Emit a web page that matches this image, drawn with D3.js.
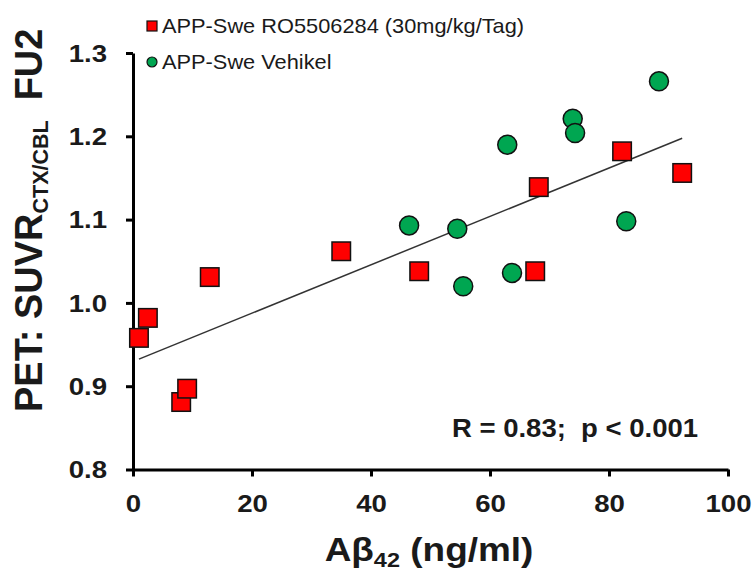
<!DOCTYPE html>
<html>
<head>
<meta charset="utf-8">
<script src="https://cdn.jsdelivr.net/npm/d3@7"></script>
<style>
  body { margin: 0; background: #fff; }
  svg { display: block; }
  text { font-family: Arial, "Liberation Sans", sans-serif; }
</style>
</head>
<body>
<div id="chart"></div>
<script>
// Treated group (red squares)
const treatedX = [1.0, 2.5, 8.1, 9.1, 12.9, 35.0, 48.1, 67.6, 68.2, 82.2, 92.3];
const treatedY = [0.958, 0.982, 0.881, 0.897, 1.031, 1.062, 1.038, 1.038, 1.139, 1.182, 1.156];
// Vehicle group (green circles)
const vehicleX = [46.4, 54.5, 55.5, 62.9, 63.7, 73.9, 74.3, 82.9, 88.4];
const vehicleY = [1.093, 1.089, 1.020, 1.190, 1.036, 1.221, 1.204, 1.098, 1.266];

const xTicks = [0, 20, 40, 60, 80, 100];
const yTicks = [0.8, 0.9, 1.0, 1.1, 1.2, 1.3];
const legendLabels = ["APP-Swe RO5506284 (30mg/kg/Tag)", "APP-Swe Vehikel"];
const statsLabel = "R = 0.83;  p < 0.001";

const width = 753, height = 572;
const svg = d3.select("#chart").append("svg")
    .attr("width", width)
    .attr("height", height);

const x = d3.scaleLinear().domain([0, 100]).range([133, 728]);
const y = d3.scaleLinear().domain([0.8, 1.3]).range([469.5, 53]);

const SX = 1.2; // text in the figure is horizontally stretched

// Regression line over all points
const allX = treatedX.concat(vehicleX);
const allY = treatedY.concat(vehicleY);
const mx = d3.mean(allX), my = d3.mean(allY);
const slope = d3.sum(allX, (v, i) => (v - mx) * (allY[i] - my)) / d3.sum(allX, v => (v - mx) * (v - mx));
const icept = my - slope * mx;
const xmin = d3.min(allX), xmax = d3.max(allX);

svg.append("line")
    .attr("x1", x(xmin)).attr("y1", y(icept + slope * xmin))
    .attr("x2", x(xmax)).attr("y2", y(icept + slope * xmax))
    .attr("stroke", "#333").attr("stroke-width", 1.5);

// Axes
const yAxis = svg.append("g")
    .attr("transform", `translate(${x(0)},0)`)
    .call(d3.axisLeft(y).tickValues(yTicks).tickSize(7).tickSizeOuter(0)
        .tickFormat(d3.format(".1f")));
const xAxis = svg.append("g")
    .attr("transform", `translate(0,${y(0.8)})`)
    .call(d3.axisBottom(x).tickValues(xTicks).tickSize(7).tickSizeOuter(0));

[yAxis, xAxis].forEach(function (ax) {
    ax.select(".domain").attr("stroke", "#000").attr("stroke-width", 3);
    ax.selectAll(".tick line").attr("stroke", "#000").attr("stroke-width", 3);
    ax.selectAll(".tick text")
        .attr("fill", "#1a1a1a")
        .style("font-size", "23px")
        .style("font-weight", "bold");
});
yAxis.selectAll(".tick text")
    .attr("x", -26 / SX)
    .attr("dy", "0.36em")
    .attr("transform", `scale(${SX},1)`);
xAxis.selectAll(".tick text")
    .attr("y", 42.5)
    .attr("dy", 0)
    .attr("transform", `scale(${SX},1)`);

// Points
const sq = 18.5;
svg.selectAll(".treated")
    .data(treatedX)
    .enter().append("rect")
    .attr("class", "treated")
    .attr("x", d => x(d) - sq / 2)
    .attr("y", (d, i) => y(treatedY[i]) - sq / 2)
    .attr("width", sq).attr("height", sq)
    .attr("fill", "#ff0000").attr("stroke", "#111").attr("stroke-width", 1.5);

svg.selectAll(".vehicle")
    .data(vehicleX)
    .enter().append("circle")
    .attr("class", "vehicle")
    .attr("cx", d => x(d))
    .attr("cy", (d, i) => y(vehicleY[i]))
    .attr("r", 9.5)
    .attr("fill", "#00a651").attr("stroke", "#111").attr("stroke-width", 1.5);

// Legend
const leg = svg.append("g");
leg.append("rect")
    .attr("x", 147).attr("y", 21).attr("width", 10).attr("height", 10)
    .attr("fill", "#ff0000").attr("stroke", "#111").attr("stroke-width", 1.2);
leg.append("circle")
    .attr("cx", 152).attr("cy", 62).attr("r", 5)
    .attr("fill", "#00a651").attr("stroke", "#111").attr("stroke-width", 1.2);
legendLabels.forEach(function (lab, i) {
    leg.append("g")
        .attr("transform", `translate(162,${[33, 69][i]})`)
        .append("text")
        .attr("transform", "scale(1.09,1)")
        .attr("fill", "#1a1a1a")
        .style("font-size", "20px")
        .text(lab);
});

// Stats annotation
svg.append("g")
    .attr("transform", "translate(452,437)")
    .append("text")
    .attr("transform", "scale(1.1,1)")
    .attr("fill", "#1a1a1a")
    .style("font-size", "25px")
    .style("font-weight", "bold")
    .style("white-space", "pre")
    .text(statsLabel);

// X axis title
const xt = svg.append("g")
    .attr("transform", "translate(429,561)")
    .append("text")
    .attr("transform", "scale(1.12,1)")
    .attr("text-anchor", "middle")
    .attr("fill", "#1a1a1a")
    .style("font-weight", "bold")
    .style("font-size", "33px");
xt.append("tspan").text("Aβ");
xt.append("tspan").attr("dy", 6).style("font-size", "21px").text("42");
xt.append("tspan").attr("dy", -6).style("white-space", "pre").text(" (ng/ml)");

// Y axis title
const yt = svg.append("text")
    .attr("transform", "translate(42,412) rotate(-90)")
    .attr("fill", "#1a1a1a")
    .style("font-weight", "bold")
    .style("font-size", "38px");
yt.append("tspan").text("PET: SUVR");
yt.append("tspan").attr("dy", 6).style("font-size", "21.5px").text("CTX/CBL");
yt.append("tspan").attr("dy", -6).attr("dx", 20).text("FU2");
</script>
</body>
</html>
